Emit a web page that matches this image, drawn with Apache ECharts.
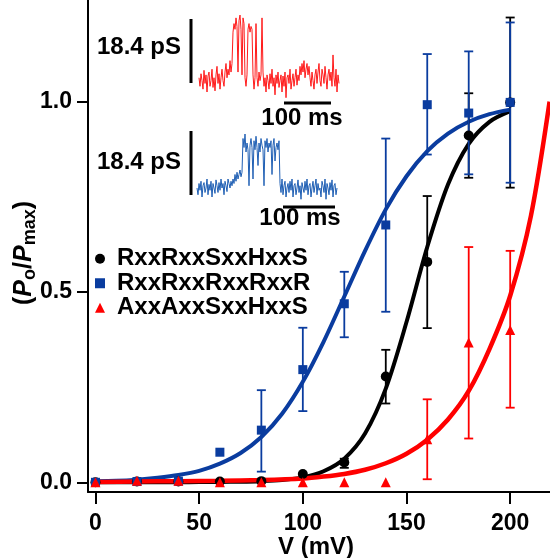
<!DOCTYPE html>
<html>
<head>
<meta charset="utf-8">
<script src="https://cdn.jsdelivr.net/npm/echarts@6/dist/echarts.min.js"></script>
<style>
html,body{margin:0;padding:0;background:#fff;}
#chart{width:550px;height:558px;}
</style>
</head>
<body>
<div id="chart"></div>
<script>
// ---------- data ----------
const seriesNames = ['RxxRxxSxxHxxS', 'RxxRxxRxxRxxR', 'AxxAxxSxxHxxS'];
const voltages = [0, 20, 40, 60, 80, 100, 120, 140, 160, 180, 200];
const blackPo = [0.0, 0.002, 0.002, 0.002, 0.003, 0.022, 0.052, 0.278, 0.579, 0.911, 0.998];
const bluePo  = [0.0, 0.002, 0.003, 0.079, 0.137, 0.296, 0.469, 0.676, 0.992, 0.970, 0.998];
const redPo   = [0.0, 0.004, 0.004, 0.0, 0.0, 0.0, 0.0, 0.0, 0.113, 0.367, 0.400];

const blackErrV = [120, 140, 160, 180, 200];
const blackLo   = [0.038, 0.207, 0.405, 0.800, 0.774];
const blackHi   = [0.062, 0.348, 0.752, 1.022, 1.221];
const blueErrV  = [80, 100, 120, 140, 160, 180, 200];
const blueLo    = [0.028, 0.187, 0.381, 0.448, 0.861, 0.809, 0.787];
const blueHi    = [0.242, 0.406, 0.553, 0.903, 1.125, 1.132, 1.208];
const redErrV   = [160, 180, 200];
const redLo     = [0.008, 0.115, 0.196];
const redHi     = [0.218, 0.618, 0.608];

// fitted curves
const fitV     = [0,10,20,30,40,50,60,70,80,90,100,110,120,130,140,150,160,170,180,190,200];
const blueFit  = [0.003,0.004,0.007,0.012,0.019,0.030,0.049,0.077,0.119,0.180,0.264,0.369,0.488,0.608,0.717,0.804,0.870,0.916,0.947,0.967,0.979];
const blackFit = [0,0,0,0,0,0.0005,0.001,0.0015,0.003,0.006,0.013,0.029,0.062,0.128,0.246,0.421,0.618,0.782,0.889,0.947,0.975];
const redFitV  = [0,20,40,60,80,100,110,120,130,140,150,160,170,180,190,200,210,219];
const redFit   = [0.001,0.002,0.003,0.004,0.006,0.010,0.015,0.022,0.033,0.050,0.075,0.112,0.165,0.240,0.350,0.490,0.700,1.000];

const xTicks = [0, 50, 100, 150, 200];
const yTicks = [0, 0.5, 1.0];
const xTitle = 'V (mV)';

// inset single-channel traces (closed = 0, open = 1), one sample per pixel column
const redTrace = [
  0.05,-0.1,0.12,0.0,-0.15,0.18,-0.05,0.1,-0.2,0.08,0.15,-0.1,0.0,0.2,-0.12,0.05,-0.18,0.1,0.25,-0.05,
  0.12,-0.15,0.05,0.2,0.0,-0.1,0.15,0.3,0.05,0.2,0.1,0.35,0.15,0.3,
  0.85,1.0,0.9,1.1,0.95,0.15,1.05,1.15,0.9,0.1,1.1,1.0,
  0.05,-0.1,0.1,
  0.9,1.0,0.85,0.95,0.9,
  0.1,-0.15,0.05,
  1.0,
  0.05,-0.1,0.15,0.0,0.1,
  1.1,
  0.15,-0.1,0.05,-0.2,0.1,0.0,-0.15,0.12,-0.05,0.2,
  -0.1,0.05,-0.25,0.1,-0.05,0.15,-0.12,0.0,0.1,-0.2,
  0.08,-0.1,0.15,-0.3,0.05,0.1,-0.05,0.2,-0.15,0.0,
  0.12,-0.1,0.05,0.2,-0.08,0.1,0.0,0.25,0.1,0.3,
  0.15,0.35,0.05,0.2,0.3,0.1,0.25,0.05,-0.1,0.15,
  0.0,-0.15,0.1,0.2,-0.05,0.15,0.3,0.0,-0.1,0.2,
  0.1,-0.05,0.25,0.05,-0.15,0.1,0.2,0.0,0.15,-0.1,
  0.45,0.05,-0.1,0.2,-0.2,0.1,-0.05
];
const blueTrace = [
  0.0,-0.15,0.1,-0.05,0.15,-0.2,0.05,0.12,-0.1,0.0,0.2,-0.15,0.08,-0.05,0.15,-0.2,0.1,0.0,-0.12,0.18,
  0.05,-0.1,0.12,-0.05,0.2,0.0,0.1,-0.15,0.15,0.05,-0.08,0.2,0.1,0.0,0.15,0.05,
  0.2,0.1,0.3,0.15,0.35,0.2,0.3,0.4,0.25,0.35,
  1.1,0.9,1.2,0.8,1.0,0.85,0.05,0.95,1.1,0.9,0.2,1.05,0.85,1.15,0.9,0.5,1.0,0.8,1.1,0.95,
  0.85,0.05,1.05,0.9,1.1,0.8,1.0,0.9,1.05,0.3,0.95,1.1,0.6,0.9,1.0,0.85,1.05,
  0.1,-0.1,0.2,-0.15,0.05,0.15,-0.2,0.0,0.1,-0.1,
  0.15,-0.05,0.2,-0.2,0.05,0.1,-0.15,0.0,0.18,-0.1,
  0.05,-0.25,0.12,0.0,-0.1,0.15,-0.05,0.2,-0.15,0.05,
  0.1,-0.2,0.0,0.15,-0.1,0.05,0.2,-0.15,0.1,-0.05,
  0.0,-0.2,0.15,0.05,-0.1,0.2,-0.25,0.1,0.0,-0.15,
  0.12,-0.05,0.18,-0.2,0.05,0.1,-0.15,0.0
];
const scaleText = '18.4 pS';
const timeText = '100 ms';

// ---------- styles ----------
const FONT = '"Liberation Sans", Arial, Helvetica, sans-serif';
const BLACK = '#000000', BLUE = '#0a3c9f', RED = '#ff0000';
const TRACE_RED = '#ff1a1a', TRACE_BLUE = '#1f5fb4';

function pairs(xs, ys) { return xs.map((x, i) => [x, ys[i]]); }
function triples(xs, lo, hi) { return xs.map((x, i) => [x, lo[i], hi[i]]); }
function errRender(color) {
  return function (params, api) {
    const x = api.value(0);
    const a = api.coord([x, api.value(1)]);
    const b = api.coord([x, api.value(2)]);
    const w = 4.5;
    const st = { stroke: color, lineWidth: 1.8 };
    return {
      type: 'group',
      children: [
        { type: 'line', shape: { x1: a[0], y1: a[1], x2: b[0], y2: b[1] }, style: st },
        { type: 'line', shape: { x1: a[0] - w, y1: a[1], x2: a[0] + w, y2: a[1] }, style: st },
        { type: 'line', shape: { x1: b[0] - w, y1: b[1], x2: b[0] + w, y2: b[1] }, style: st }
      ]
    };
  };
}
function fitSeries(name, xs, ys, color, width) {
  return {
    name: name, type: 'line', data: pairs(xs, ys), showSymbol: false, symbol: 'none',
    smooth: 0.3, lineStyle: { color: color, width: width }, z: 2,
    xAxisIndex: 0, yAxisIndex: 0, silent: true
  };
}
function errSeries(xs, lo, hi, color) {
  return {
    type: 'custom', data: triples(xs, lo, hi), renderItem: errRender(color),
    encode: { x: 0, y: [1, 2] }, z: 3, xAxisIndex: 0, yAxisIndex: 0, silent: true
  };
}
function pointSeries(name, ys, symbol, size, color) {
  return {
    name: name, type: 'scatter', data: pairs(voltages, ys), symbol: symbol, symbolSize: size,
    itemStyle: { color: color, opacity: 1 }, z: 4, xAxisIndex: 0, yAxisIndex: 0
  };
}
function traceSeries(idx, values, color) {
  return {
    type: 'line', xAxisIndex: idx, yAxisIndex: idx, data: values.map((v, i) => [i, v]),
    showSymbol: false, symbol: 'none', lineStyle: { color: color, width: 1 }, silent: true
  };
}

const textBase = { fontFamily: FONT, fontWeight: 'bold', fontSize: 24, fill: '#000' };

const option = {
  animation: false,
  backgroundColor: '#fff',
  grid: [
    { left: 88, right: 0, top: 0, bottom: 66, containLabel: false, outerBoundsMode: 'none' },
    { left: 199, top: 12.2, width: 140, height: 85.5, containLabel: false, outerBoundsMode: 'none' },
    { left: 197, top: 125, width: 140, height: 81, containLabel: false, outerBoundsMode: 'none' }
  ],
  xAxis: [
    {
      type: 'value', min: -3.6, max: 219.2, gridIndex: 0,
      axisLine: { show: true, onZero: false, lineStyle: { color: '#000', width: 2 } },
      axisTick: { show: true, length: 12, lineStyle: { color: '#000', width: 2 }, customValues: xTicks },
      axisLabel: { customValues: xTicks, margin: 20, fontSize: 23, fontWeight: 'bold', fontFamily: FONT, color: '#000' },
      splitLine: { show: false }
    },
    { type: 'value', gridIndex: 1, min: 0, max: 140, show: false },
    { type: 'value', gridIndex: 2, min: 0, max: 140, show: false }
  ],
  yAxis: [
    {
      type: 'value', min: -0.0255, max: 1.267, gridIndex: 0,
      axisLine: { show: true, onZero: false, lineStyle: { color: '#000', width: 2 } },
      axisTick: { show: true, length: 11, lineStyle: { color: '#000', width: 2 }, customValues: yTicks },
      axisLabel: { customValues: yTicks, margin: 16, fontSize: 23, fontWeight: 'bold', fontFamily: FONT, color: '#000',
        formatter: v => v.toFixed(1) },
      splitLine: { show: false }
    },
    { type: 'value', gridIndex: 1, min: -0.3, max: 1.2, show: false },
    { type: 'value', gridIndex: 2, min: -0.4, max: 1.4, show: false }
  ],
  legend: {
    data: [
      { name: seriesNames[0], icon: 'circle' },
      { name: seriesNames[1], icon: 'rect' },
      { name: seriesNames[2], icon: 'triangle' }
    ],
    orient: 'vertical', left: 95, top: 246.5, itemWidth: 10, itemHeight: 10, itemGap: 0,
    selectedMode: false, padding: 0,
    textStyle: { fontSize: 24, fontWeight: 'bold', fontFamily: FONT, color: '#000', lineHeight: 24.5, padding: [0, 0, 0, 7] }
  },
  series: [
    fitSeries('fitBlack', fitV, blackFit, BLACK, 4),
    fitSeries('fitBlue', fitV, blueFit, BLUE, 4),
    fitSeries('fitRed', redFitV, redFit, RED, 4.5),
    errSeries(blackErrV, blackLo, blackHi, BLACK),
    errSeries(blueErrV, blueLo, blueHi, BLUE),
    errSeries(redErrV, redLo, redHi, RED),
    pointSeries(seriesNames[0], blackPo, 'circle', 10, BLACK),
    pointSeries(seriesNames[1], bluePo, 'rect', 9, BLUE),
    pointSeries(seriesNames[2], redPo, 'triangle', 10, RED),
    traceSeries(1, redTrace, TRACE_RED),
    traceSeries(2, blueTrace, TRACE_BLUE)
  ],
  graphic: [
    { type: 'line', shape: { x1: 191, y1: 19, x2: 191, y2: 83 }, style: { stroke: '#000', lineWidth: 3 } },
    { type: 'text', x: 181, y: 47, style: Object.assign({ text: scaleText, align: 'right', verticalAlign: 'middle' }, textBase) },
    { type: 'line', shape: { x1: 284, y1: 103, x2: 331, y2: 103 }, style: { stroke: '#000', lineWidth: 3 } },
    { type: 'text', x: 302, y: 118, style: Object.assign({ text: timeText, align: 'center', verticalAlign: 'middle' }, textBase) },
    { type: 'line', shape: { x1: 191, y1: 131, x2: 191, y2: 195 }, style: { stroke: '#000', lineWidth: 3 } },
    { type: 'text', x: 181, y: 162, style: Object.assign({ text: scaleText, align: 'right', verticalAlign: 'middle' }, textBase) },
    { type: 'line', shape: { x1: 283, y1: 207, x2: 335, y2: 207 }, style: { stroke: '#000', lineWidth: 3 } },
    { type: 'text', x: 300, y: 218, style: Object.assign({ text: timeText, align: 'center', verticalAlign: 'middle' }, textBase) },
    { type: 'text', x: 316, y: 547, style: Object.assign({ text: xTitle, align: 'center', verticalAlign: 'middle' }, textBase) },
    {
      type: 'text', x: 24, y: 253, rotation: Math.PI / 2,
      style: {
        text: '{n|(}{i|P}{s|o}{n|/}{i|P}{s|max}{n|)}',
        align: 'center', verticalAlign: 'middle',
        rich: {
          n: { fontFamily: FONT, fontWeight: 'bold', fontSize: 25, lineHeight: 30, verticalAlign: 'middle', fill: '#000', color: '#000' },
          i: { fontFamily: FONT, fontWeight: 'bold', fontStyle: 'italic', fontSize: 25, lineHeight: 30, verticalAlign: 'middle', fill: '#000', color: '#000' },
          s: { fontFamily: FONT, fontWeight: 'bold', fontSize: 18, lineHeight: 18, verticalAlign: 'bottom', fill: '#000', color: '#000' }
        }
      }
    }
  ]
};

const chart = echarts.init(document.getElementById('chart'), null, { renderer: 'canvas' });
chart.setOption(option);
</script>
</body>
</html>
